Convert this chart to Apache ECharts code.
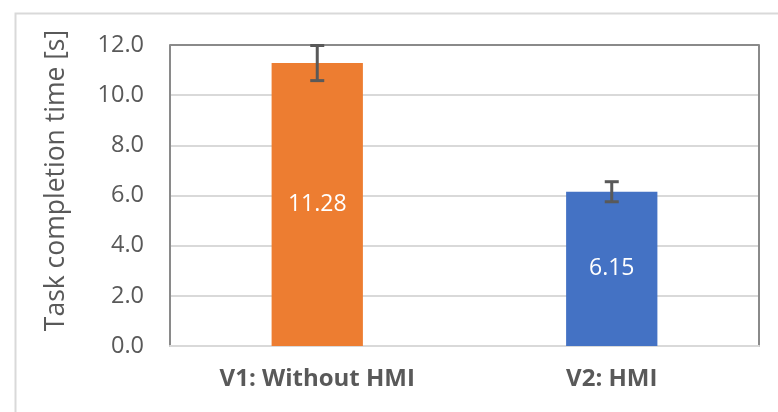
<!DOCTYPE html>
<html>
<head>
<meta charset="utf-8">
<script src="https://cdn.jsdelivr.net/npm/echarts@6/dist/echarts.min.js"></script>
<style>html,body{margin:0;padding:0;background:#fff}#c{width:778px;height:412px}</style>
</head>
<body>
<div id="c"></div>
<script>
const categories = ['V1: Without HMI', 'V2: HMI'];
const means = [11.28, 6.15];
const errors = [0.70, 0.40];
const barColors = ['#ED7D31', '#4472C4'];
const yTicks = [0, 2, 4, 6, 8, 10, 12];

const FONT = '"Open Sans", sans-serif';
const chart = echarts.init(document.getElementById('c'), null, {renderer: 'canvas'});
const splitColors = yTicks.map((t, i) => i === yTicks.length - 1 ? '#8a8a8a' : '#d9d9d9');

chart.setOption({
  animation: false,
  backgroundColor: '#fff',
  textStyle: {fontFamily: FONT},
  graphic: [{
    type: 'rect', left: 13, top: 11, shape: {width: 800, height: 440},
    style: {fill: 'none', stroke: '#d9d9d9', lineWidth: 2}, silent: true
  }],
  grid: {left: 170, right: 19, top: 45, bottom: 66, containLabel: false},
  xAxis: {
    type: 'category', data: categories,
    axisTick: {show: false},
    axisLine: {show: true, lineStyle: {color: '#d9d9d9', width: 2}},
    axisLabel: {color: '#595959', fontSize: 24, fontWeight: 'bold', fontFamily: FONT, margin: 21}
  },
  yAxis: [{
    type: 'value', min: 0, max: 12, interval: 2,
    name: 'Task completion time [s]', nameLocation: 'middle', nameGap: 100,
    nameTextStyle: {color: '#595959', fontSize: 26.5, fontFamily: FONT, padding: [0, 0, 0, 30]},
    axisLine: {show: true, lineStyle: {color: '#8a8a8a', width: 2}},
    axisTick: {show: false},
    splitLine: {show: true, lineStyle: {color: splitColors, width: 2}},
    axisLabel: {color: '#595959', fontSize: 23.5, fontFamily: FONT, margin: 26,
      formatter: v => v.toFixed(1)}
  }, {
    type: 'value', min: 0, max: 12, interval: 2, position: 'right',
    axisLine: {show: true, lineStyle: {color: '#8a8a8a', width: 2}},
    axisTick: {show: false}, axisLabel: {show: false}, splitLine: {show: false}
  }],
  series: [{
    type: 'bar', barWidth: '31%',
    data: means.map((v, i) => ({value: v, itemStyle: {color: barColors[i]}})),
    label: {show: true, position: 'inside', color: '#fff', fontSize: 23, fontFamily: FONT,
      formatter: p => p.value.toFixed(2)}
  }, {
    type: 'custom', z: 5,
    data: means.map((v, i) => [i, v - errors[i], v + errors[i]]),
    renderItem: function (params, api) {
      const lo = api.coord([api.value(0), api.value(1)]);
      const hi = api.coord([api.value(0), api.value(2)]);
      const hw = 7;
      const st = {stroke: '#595959', lineWidth: 3, fill: 'none'};
      return {type: 'group', children: [
        {type: 'line', shape: {x1: hi[0], y1: hi[1], x2: lo[0], y2: lo[1]}, style: st},
        {type: 'line', shape: {x1: hi[0] - hw, y1: hi[1], x2: hi[0] + hw, y2: hi[1]}, style: st},
        {type: 'line', shape: {x1: lo[0] - hw, y1: lo[1], x2: lo[0] + hw, y2: lo[1]}, style: st}
      ]};
    }
  }]
});
</script>
</body>
</html>
